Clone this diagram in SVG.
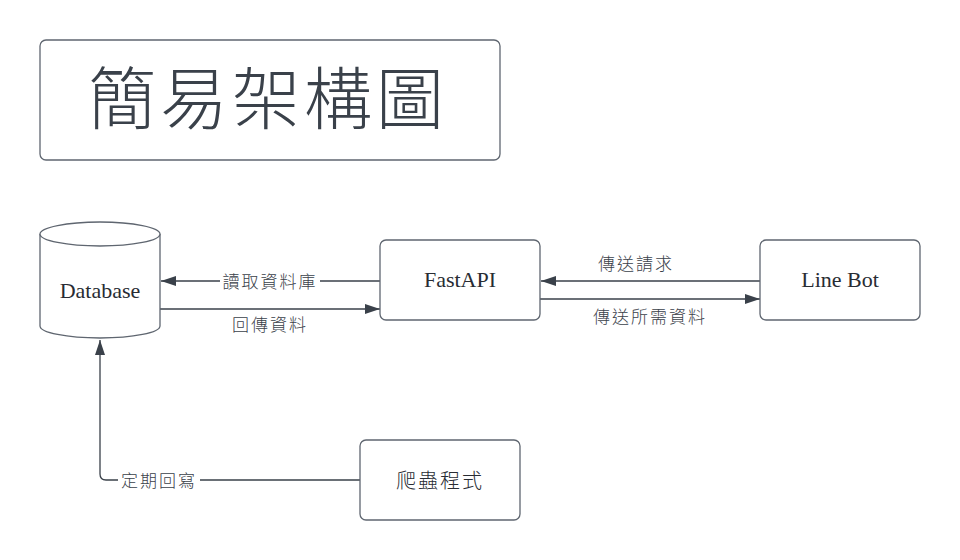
<svg xmlns="http://www.w3.org/2000/svg" width="960" height="560" viewBox="0 0 960 560">
<defs>
<style>
.box{fill:#ffffff;stroke:#5f6670;stroke-width:1.3}
.node-text{font-family:"Liberation Serif","Noto Sans CJK TC",serif;font-size:22px;fill:#282c33;text-anchor:middle;dominant-baseline:central}
.cjk-node{font-family:"Noto Sans CJK TC","Noto Sans CJK SC",sans-serif;font-weight:300;font-size:20px;letter-spacing:2px;fill:#282c33;text-anchor:middle;dominant-baseline:central}
.title{font-family:"Noto Sans CJK TC","Noto Sans CJK SC",sans-serif;font-weight:300;font-size:68px;letter-spacing:4px;fill:#3a414a;text-anchor:middle;dominant-baseline:central}
.conn{fill:none;stroke:#3a414a;stroke-width:1.3}
.label{font-family:"Noto Sans CJK TC","Noto Sans CJK SC",sans-serif;font-weight:300;font-size:17px;letter-spacing:2px;fill:#3a414a;text-anchor:middle;dominant-baseline:central}
.lbg{fill:#ffffff}
</style>
<marker id="arr" viewBox="0 0 15 10" refX="15" refY="5" markerWidth="15" markerHeight="10" markerUnits="userSpaceOnUse" orient="auto">
<path d="M0,0 L15,5 L0,10 z" fill="#3a414a"/>
</marker>
</defs>
<rect width="960" height="560" fill="#ffffff"/>

<g id="title">
<rect class="box" x="40" y="40" width="460" height="120" rx="6"/>
<text class="title" x="268" y="94">簡易架構圖</text>
</g>

<g id="connectors">
<g id="c-read">
<line class="conn" x1="380" y1="281" x2="161" y2="281" marker-end="url(#arr)"/>
<rect class="lbg" x="220" y="270" width="100" height="22"/>
<text class="label" x="270" y="280">讀取資料庫</text>
</g>
<g id="c-return">
<line class="conn" x1="160" y1="309" x2="380" y2="309" stroke-width="2" marker-end="url(#arr)"/>
<text class="label" x="270" y="323">回傳資料</text>
</g>
<g id="c-request">
<line class="conn" x1="760" y1="281" x2="541" y2="281" marker-end="url(#arr)"/>
<text class="label" x="636" y="262">傳送請求</text>
</g>
<g id="c-send">
<line class="conn" x1="540" y1="299" x2="760" y2="299" marker-end="url(#arr)"/>
<text class="label" x="650" y="315">傳送所需資料</text>
</g>
<g id="c-write">
<path class="conn" d="M360,480 L106,480 Q100,480 100,474 L100,340" marker-end="url(#arr)"/>
<rect class="lbg" x="118" y="469" width="82" height="22"/>
<text class="label" x="159" y="479">定期回寫</text>
</g>
</g>

<g id="database">
<path class="box" d="M40,234 A60,12 0 0 1 160,234 L160,326 A60,12 0 0 1 40,326 Z"/>
<path class="box" d="M40,234 A60,12 0 0 0 160,234" fill="none"/>
<text class="node-text" x="100" y="290">Database</text>
</g>

<g id="fastapi">
<rect class="box" x="380" y="240" width="160" height="80" rx="6"/>
<text class="node-text" x="460" y="279">FastAPI</text>
</g>

<g id="linebot">
<rect class="box" x="760" y="240" width="160" height="80" rx="6"/>
<text class="node-text" x="840" y="279">Line Bot</text>
</g>

<g id="crawler">
<rect class="box" x="360" y="440" width="160" height="80" rx="6"/>
<text class="cjk-node" x="440" y="479">爬蟲程式</text>
</g>
</svg>
